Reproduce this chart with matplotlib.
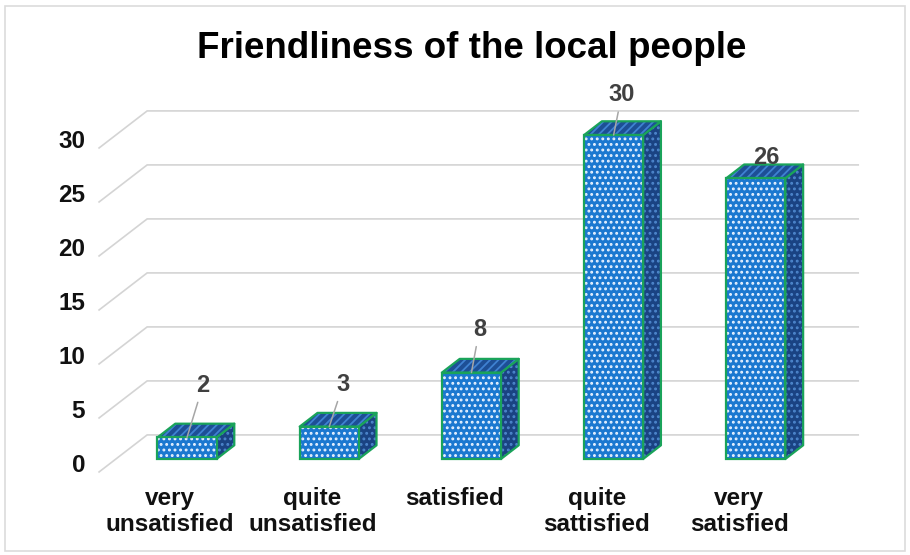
import matplotlib
matplotlib.use('Agg')
import matplotlib.pyplot as plt
from matplotlib.patches import Polygon, Rectangle

title = "Friendliness of the local people"
categories = ["very\nunsatisfied", "quite\nunsatisfied", "satisfied",
              "quite\nsattisfied", "very\nsatisfied"]
counts = [2, 3, 8, 30, 26]
y_ticks = [0, 5, 10, 15, 20, 25, 30]

# where each value label sits relative to the top of its bar (pixels, up is +)
label_offsets = [(16, 52), (14, 42), (8, 43), (8, 40), (10, 21)]

plt.rcParams['font.family'] = ['Liberation Sans', 'DejaVu Sans']
plt.rcParams['font.weight'] = 'bold'
plt.rcParams['hatch.linewidth'] = 1.3

# fake 3d: going back in depth shifts right and up
DX = 0.338
DY = 3.43
GRID_Z = (-0.35, 0.65)
BAR_Z = 0.37
BAR_W = 0.415

GREEN = '#1aa35a'
FRONT = '#1b78d0'
TOP = '#1d4f96'
SIDE = '#1a4383'
GRID = '#d4d4d4'


def proj(x, y, z):
    return x + z * DX, y + z * DY


def face(ax, verts, fc, hatch, hc, zorder):
    ax.add_patch(Polygon(verts, closed=True, facecolor=fc, edgecolor='none', zorder=zorder))
    ax.add_patch(Polygon(verts, closed=True, fill=False, hatch=hatch, edgecolor=hc,
                         linewidth=0, zorder=zorder + 0.1))
    ax.add_patch(Polygon(verts, closed=True, fill=False, edgecolor=GREEN,
                         linewidth=1.6, joinstyle='round', zorder=zorder + 0.2))


fig = plt.figure(figsize=(9.1, 5.55), dpi=100)
ax = fig.add_axes([0, 0, 1, 1])
ax.set_xlim(-1.315, 5.084)
ax.set_ylim(-8.89, 42.5)
ax.axis('off')

# outer chart border
fig.add_artist(Rectangle((0.006, 0.008), 0.988, 0.982, transform=fig.transFigure,
                         fill=False, edgecolor='#dcdcdc', linewidth=1.2))

fig.text(0.518, 0.912, title, ha='center', va='center', fontsize=26.5, fontweight='bold')

# gridlines: diagonal on the side wall, then along the back wall
left = -0.5
right = len(categories) - 0.5
for t in y_ticks:
    pts = [proj(left, t, GRID_Z[0]), proj(left, t, GRID_Z[1]), proj(right, t, GRID_Z[1])]
    ax.plot([p[0] for p in pts], [p[1] for p in pts], color=GRID, lw=1.2, zorder=1,
            solid_joinstyle='miter')
    fx, fy = pts[0]
    ax.annotate(str(t), (fx, fy), xytext=(-14, 6), textcoords='offset pixels',
                ha='right', va='center', fontsize=17.5, fontweight='bold', color='#111111')

xs = list(range(len(categories)))

for i, v in enumerate(counts):
    x0, x1 = i - BAR_W / 2, i + BAR_W / 2
    side = [proj(x1, 0, 0), proj(x1, v, 0), proj(x1, v, BAR_Z), proj(x1, 0, BAR_Z)]
    top = [proj(x0, v, 0), proj(x1, v, 0), proj(x1, v, BAR_Z), proj(x0, v, BAR_Z)]
    face(ax, side, SIDE, '...', '#4d86cc', 2)
    face(ax, top, TOP, '////', '#3f82d2', 2.5)

# front faces
ax.bar(xs, counts, width=BAR_W, color=FRONT, edgecolor='none', zorder=3)
ax.bar(xs, counts, width=BAR_W, fill=False, hatch='...', edgecolor='#e8f2ff', linewidth=0, zorder=3.1)
ax.bar(xs, counts, width=BAR_W, fill=False, edgecolor=GREEN, linewidth=1.6, zorder=3.2)

# value labels with leader lines
for i, v in enumerate(counts):
    off = label_offsets[i]
    long_leader = abs(off[1]) > 25
    ax.annotate(str(v), (i, v), xytext=off, textcoords='offset pixels',
                ha='center', va='center', fontsize=17, fontweight='bold', color='#404040',
                zorder=6,
                arrowprops=dict(arrowstyle='-', color='#a6a6a6', lw=1.1,
                                shrinkA=2, shrinkB=0) if long_leader else None)

# category labels under the front edge of the floor
for i, name in enumerate(categories):
    cx, cy = proj(i, 0, GRID_Z[0])
    ax.annotate(name, (cx, cy), xytext=(0, -15), textcoords='offset pixels',
                ha='center', va='top', fontsize=17.5, fontweight='bold', color='#111111',
                linespacing=1.15)

fig.savefig('out.png', dpi=100)
